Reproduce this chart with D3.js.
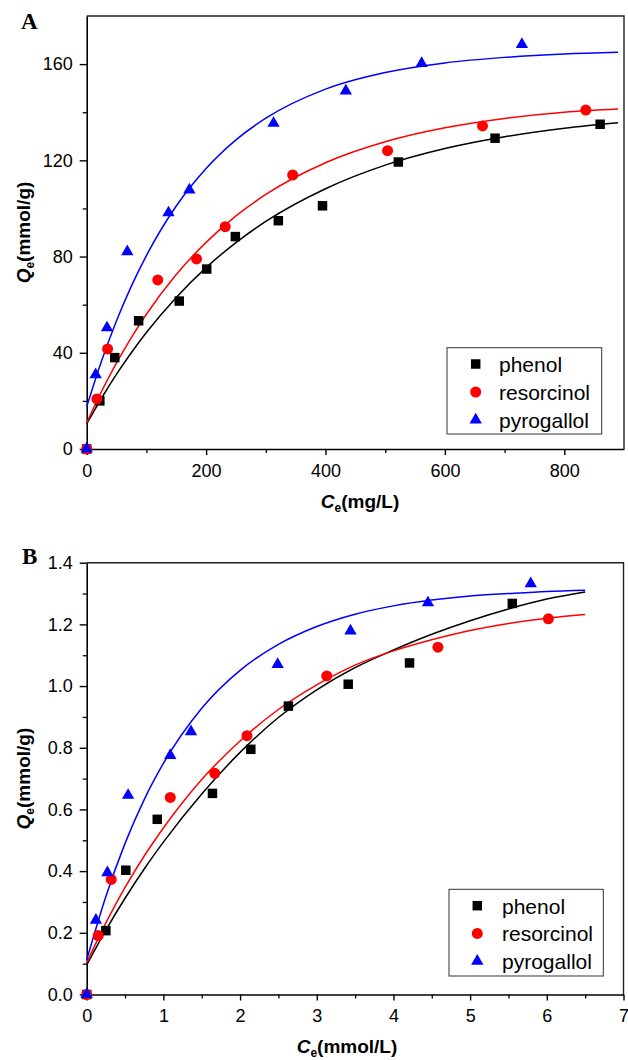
<!DOCTYPE html>
<html>
<head>
<meta charset="utf-8">
<script src="https://cdn.jsdelivr.net/npm/d3@7"></script>
<style>
  body { margin: 0; background: #fff; }
  svg text { fill: #000; }
</style>
</head>
<body>
<svg id="chart" width="628" height="1060"></svg>
<script>
// ---- series shared by both panels ----
const seriesNames  = ["phenol", "resorcinol", "pyrogallol"];
const seriesColors = ["#000000", "#ff0000", "#0000ff"];
const seriesShapes = ["square", "circle", "triangle"];

// ---- Panel A: Qe (mmol/g) vs Ce (mg/L) ----
const aPhenolX      = [0, 22, 47, 87, 155, 201, 249, 321, 395, 522, 684, 860];
const aPhenolY      = [0, 20, 38, 53.3, 61.5, 74.8, 88.3, 94.9, 101.1, 119.3, 129.2, 135];
const aResorcinolX  = [0, 17, 35, 119, 184, 232, 345, 504, 663, 836];
const aResorcinolY  = [0, 20.8, 41.6, 70.3, 79, 92.4, 113.9, 124, 134.3, 140.9];
const aPyrogallolX  = [0, 15, 34, 68, 137, 172, 313, 434, 561, 729];
const aPyrogallolY  = [0, 30.9, 50.4, 82, 98.2, 107.7, 135.4, 148.9, 160.3, 168.2];

// fitted isotherm curves, sampled along Ce
const aFitX           = [0, 25, 50, 75, 100, 150, 200, 250, 300, 400, 500, 600, 700, 800, 890];
const aFitPhenol      = [10.5, 21.2, 31.1, 40.1, 48.4, 63, 75.4, 85.8, 94.6, 108.2, 118, 124.9, 129.8, 133.3, 135.6];
const aFitResorcinol  = [10.9, 24, 35.8, 46.4, 56, 72.5, 85.9, 96.9, 105.8, 119, 127.7, 133.5, 137.4, 140, 141.3];
const aFitPyrogallol  = [17.6, 36.7, 53.3, 67.8, 80.4, 101, 116.6, 128.5, 137.5, 149.6, 156.5, 160.5, 162.8, 164.2, 164.9];

const aXTicks      = [0, 200, 400, 600, 800];
const aXMinorTicks = [100, 300, 500, 700];
const aYTicks      = [0, 40, 80, 120, 160];
const aYMinorTicks = [20, 60, 100, 140];

// ---- Panel B: Qe (mmol/g) vs Ce (mmol/L) ----
const bPhenolX      = [0, 0.25, 0.51, 0.92, 1.64, 2.14, 2.63, 3.41, 4.21, 5.55];
const bPhenolY      = [0, 0.207, 0.403, 0.568, 0.652, 0.795, 0.935, 1.006, 1.075, 1.268];
const bResorcinolX  = [0, 0.15, 0.32, 1.09, 1.67, 2.09, 3.13, 4.58, 6.02];
const bResorcinolY  = [0, 0.191, 0.373, 0.639, 0.717, 0.839, 1.033, 1.126, 1.218];
const bPyrogallolX  = [0, 0.12, 0.27, 0.54, 1.09, 1.36, 2.49, 3.44, 4.45, 5.79];
const bPyrogallolY  = [0, 0.241, 0.395, 0.646, 0.775, 0.852, 1.070, 1.179, 1.270, 1.332];

const bFitX           = [0, 0.25, 0.5, 0.75, 1, 1.5, 2, 2.5, 3, 3.5, 4, 4.5, 5, 5.5, 6, 6.5];
const bFitPhenol      = [0.096, 0.209, 0.312, 0.407, 0.494, 0.650, 0.785, 0.898, 0.988, 1.060, 1.117, 1.168, 1.212, 1.250, 1.282, 1.305];
const bFitResorcinol  = [0.103, 0.232, 0.347, 0.449, 0.540, 0.697, 0.822, 0.924, 1.004, 1.068, 1.114, 1.150, 1.180, 1.203, 1.220, 1.232];
const bFitPyrogallol  = [0.112, 0.318, 0.490, 0.632, 0.749, 0.928, 1.051, 1.135, 1.193, 1.233, 1.260, 1.279, 1.292, 1.300, 1.307, 1.311];

const bXTicks      = [0, 1, 2, 3, 4, 5, 6, 7];
const bXMinorTicks = [0.5, 1.5, 2.5, 3.5, 4.5, 5.5, 6.5];
const bYTicks      = [0, 0.2, 0.4, 0.6, 0.8, 1.0, 1.2, 1.4];
const bYMinorTicks = [0.1, 0.3, 0.5, 0.7, 0.9, 1.1, 1.3];

const SANS  = "'Liberation Sans', Arial, sans-serif";
const SERIF = "'Liberation Serif', 'Times New Roman', serif";

const svg = d3.select("#chart");

const symbolTypes = { square: d3.symbolSquare, circle: d3.symbolCircle, triangle: d3.symbolTriangle };
const symbolSizes = { square: 90, circle: 95, triangle: 66 };
function symbolPath(shape) {
  return d3.symbol().type(symbolTypes[shape]).size(symbolSizes[shape])();
}

function drawPanel(p) {
  const x = d3.scaleLinear().domain(p.xDomain).range([p.left, p.right]);
  const y = d3.scaleLinear().domain(p.yDomain).range([p.bottom, p.top]);
  const g = svg.append("g");

  // frame (top and right edges)
  g.append("path")
    .attr("d", `M${p.left},${p.top}H${p.right}V${p.bottom}`)
    .attr("fill", "none").attr("stroke", "#222").attr("stroke-width", 1.4);

  // minor ticks
  const xMinor = g.append("g").attr("transform", `translate(0,${p.bottom})`)
    .call(d3.axisBottom(x).tickValues(p.xMinor).tickSizeInner(4).tickSizeOuter(0).tickFormat(""));
  const yMinor = g.append("g").attr("transform", `translate(${p.left},0)`)
    .call(d3.axisLeft(y).tickValues(p.yMinor).tickSizeInner(4).tickSizeOuter(0).tickFormat(""));
  [xMinor, yMinor].forEach(a => { a.select(".domain").remove(); a.selectAll("line").attr("stroke", "#000").attr("stroke-width", 1.3); });

  // major axes
  const xAxis = g.append("g").attr("transform", `translate(0,${p.bottom})`)
    .call(d3.axisBottom(x).tickValues(p.xTicks).tickSizeInner(6).tickSizeOuter(0).tickPadding(9)
      .tickFormat(p.xFormat));
  const yAxis = g.append("g").attr("transform", `translate(${p.left},0)`)
    .call(d3.axisLeft(y).tickValues(p.yTicks).tickSizeInner(7).tickSizeOuter(0).tickPadding(7)
      .tickFormat(p.yFormat));
  [xAxis, yAxis].forEach(a => {
    a.attr("font-family", null).attr("font-size", null);
    a.select(".domain").attr("stroke", "#000").attr("stroke-width", 1.6);
    a.selectAll("line").attr("stroke", "#000").attr("stroke-width", 1.4);
    a.selectAll("text").style("font-size", "18px").style("font-family", SANS).attr("fill", "#000");
  });

  // fitted curves
  const line = d3.line().curve(d3.curveMonotoneX).x(d => x(d[0])).y(d => y(d[1]));
  p.series.forEach((s, i) => {
    g.append("path")
      .datum(p.fitX.map((v, k) => [v, s.fit[k]]))
      .attr("d", line)
      .attr("fill", "none")
      .attr("stroke", seriesColors[i])
      .attr("stroke-width", 1.5);
  });

  // data points
  p.series.forEach((s, i) => {
    g.append("g").selectAll("path")
      .data(s.xs.map((v, k) => [v, s.ys[k]]))
      .join("path")
      .attr("transform", d => `translate(${x(d[0])},${y(d[1])})`)
      .attr("d", symbolPath(seriesShapes[i]))
      .attr("fill", seriesColors[i]);
  });

  // panel letter
  svg.append("text")
    .attr("x", p.letterX).attr("y", p.letterY)
    .style("font-family", SERIF)
    .style("font-weight", "bold").style("font-size", "23px")
    .text(p.letter);

  // x axis title
  const xt = svg.append("text")
    .attr("x", p.xTitleX).attr("y", p.xTitleY)
    .attr("text-anchor", "middle")
    .style("font-family", SANS)
    .style("font-weight", "bold").style("font-size", "19px");
  xt.append("tspan").style("font-style", "italic").text("C");
  xt.append("tspan").style("font-size", "12px").attr("dy", 4).text("e");
  xt.append("tspan").attr("dy", -4).text(p.xUnit);

  // y axis title
  const yt = svg.append("text")
    .attr("transform", `translate(${p.yTitleX},${(p.top + p.bottom) / 2}) rotate(-90)`)
    .attr("text-anchor", "middle")
    .style("font-family", SANS)
    .style("font-weight", "bold").style("font-size", "19px");
  yt.append("tspan").style("font-style", "italic").text("Q");
  yt.append("tspan").style("font-size", "12px").attr("dy", 4).text("e");
  yt.append("tspan").attr("dy", -4).text(p.yUnit);

  // legend
  const lg = svg.append("g");
  lg.append("rect")
    .attr("x", p.legend.x).attr("y", p.legend.y)
    .attr("width", p.legend.w).attr("height", p.legend.h)
    .attr("fill", "#fff").attr("stroke", "#333").attr("stroke-width", 1);
  seriesNames.forEach((name, i) => {
    const cy = p.legend.y + p.legend.firstRow + i * p.legend.rowStep;
    lg.append("path")
      .attr("transform", `translate(${p.legend.x + p.legend.symX},${cy})`)
      .attr("d", symbolPath(seriesShapes[i]))
      .attr("fill", seriesColors[i]);
    lg.append("text")
      .attr("x", p.legend.x + p.legend.textX).attr("y", cy + 8)
      .style("font-family", SANS).style("font-size", "21px")
      .text(name);
  });
}

drawPanel({
  letter: "A", letterX: 21, letterY: 29,
  left: 86.7, right: 624, top: 16, bottom: 449,
  xDomain: [0, 900], yDomain: [0, 180],
  xTicks: aXTicks, xMinor: aXMinorTicks, yTicks: aYTicks, yMinor: aYMinorTicks,
  xFormat: d3.format("d"), yFormat: d3.format("d"),
  fitX: aFitX,
  series: [
    { xs: aPhenolX, ys: aPhenolY, fit: aFitPhenol },
    { xs: aResorcinolX, ys: aResorcinolY, fit: aFitResorcinol },
    { xs: aPyrogallolX, ys: aPyrogallolY, fit: aFitPyrogallol }
  ],
  xTitleX: 360, xTitleY: 508, xUnit: "(mg/L)",
  yTitleX: 30, yUnit: "(mmol/g)",
  legend: { x: 447, y: 347.7, w: 154.7, h: 86.3, symX: 28.7, textX: 52, firstRow: 16.3, rowStep: 28 }
});

drawPanel({
  letter: "B", letterX: 22, letterY: 564,
  left: 86.7, right: 623.5, top: 562.7, bottom: 994.5,
  xDomain: [0, 7], yDomain: [0, 1.4],
  xTicks: bXTicks, xMinor: bXMinorTicks, yTicks: bYTicks, yMinor: bYMinorTicks,
  xFormat: d3.format("d"), yFormat: d3.format(".1f"),
  fitX: bFitX,
  series: [
    { xs: bPhenolX, ys: bPhenolY, fit: bFitPhenol },
    { xs: bResorcinolX, ys: bResorcinolY, fit: bFitResorcinol },
    { xs: bPyrogallolX, ys: bPyrogallolY, fit: bFitPyrogallol }
  ],
  xTitleX: 347, xTitleY: 1053, xUnit: "(mmol/L)",
  yTitleX: 30, yUnit: "(mmol/g)",
  legend: { x: 449, y: 889.3, w: 154.3, h: 86.7, symX: 28.3, textX: 53, firstRow: 16.4, rowStep: 27.7 }
});
</script>
</body>
</html>
